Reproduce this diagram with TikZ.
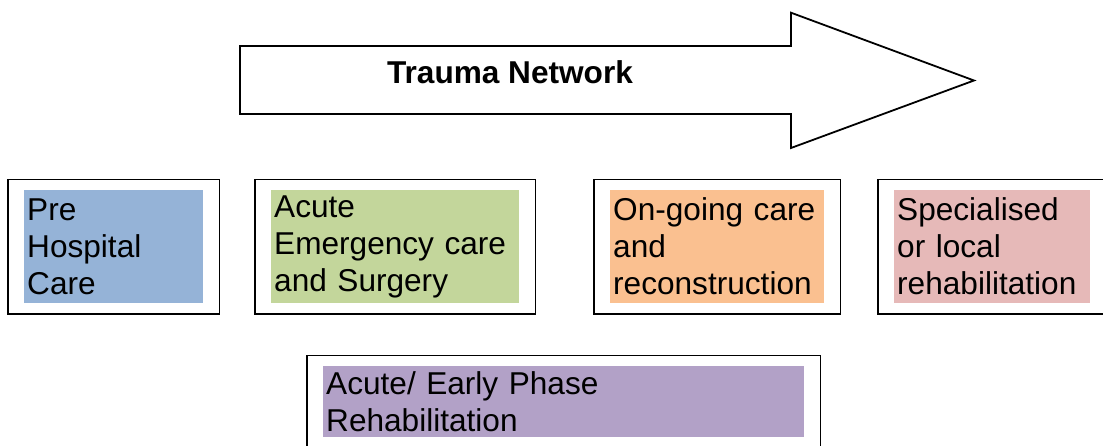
\documentclass[tikz,border=0pt]{standalone}
\usepackage{fontspec}
\setmainfont{Liberation Sans}
\usetikzlibrary{fit}

\begin{document}
\begin{tikzpicture}[
  x=1pt, y=-1pt,
  stage/.style={anchor=north west, inner xsep=3pt, inner ysep=0pt,
    align=left, minimum height=113pt,
    font=\fontsize{31.6}{37}\selectfont},
  frame/.style={draw=black, line width=1.8pt, inner xsep=16pt, inner ysep=10.5pt},
]
\definecolor{cpre}{HTML}{95B3D7}     % blue
\definecolor{cacute}{HTML}{C3D69B}   % green
\definecolor{cgoing}{HTML}{FAC090}   % orange
\definecolor{crehab}{HTML}{E6B9B8}   % pink
\definecolor{cearly}{HTML}{B2A1C7}   % purple

\useasboundingbox (0,0) rectangle (1103,446);
\clip (0,0) rectangle (1103,446);

% =====================================================================
% Network arrow on top
% =====================================================================
\coordinate (tailTop) at (240,46);
\coordinate (tailBot) at (240,114);
\coordinate (neckTop) at (791,46);
\coordinate (neckBot) at (791,114);
\coordinate (barbTop) at (791,12.7);
\coordinate (barbBot) at (791,148);
\coordinate (tip)     at (974,80.5);

\draw[line width=1.8pt, line join=miter, fill=white]
  (tailTop) -- (neckTop) -- (barbTop) -- (tip) -- (barbBot)
  -- (neckBot) -- (tailBot) -- cycle;

\node[anchor=base, inner sep=0pt, font=\bfseries\fontsize{31.6}{37}\selectfont]
  (title) at (510,83.3) {Trauma Network};

% =====================================================================
% Row of care stages
% =====================================================================
\node[stage, fill=cpre, text width=173pt] (pre) at (24,190)
  {Pre\\Hospital\\Care};
\node[frame, fit=(pre)] (preFrame) {};

\node[stage, fill=cacute, text width=242pt] (acute) at (271,190)
  {Acute\\Emergency care\\and Surgery};
\node[frame, fit=(acute)] (acuteFrame) {};

\node[stage, fill=cgoing, text width=208pt] (going) at (610,190)
  {On-going care\\and\\reconstruction};
\node[frame, fit=(going)] (goingFrame) {};

\node[stage, fill=crehab, text width=190pt] (rehab) at (894,190)
  {Specialised\\or local\\rehabilitation};
\node[frame, fit=(rehab)] (rehabFrame) {};

% =====================================================================
% Early rehabilitation, below
% =====================================================================
\node[stage, fill=cearly, text width=475pt, minimum height=71pt] (early) at (323,366)
  {Acute/ Early Phase\\Rehabilitation};
\node[frame, fit=(early)] (earlyFrame) {};

\end{tikzpicture}
\end{document}
